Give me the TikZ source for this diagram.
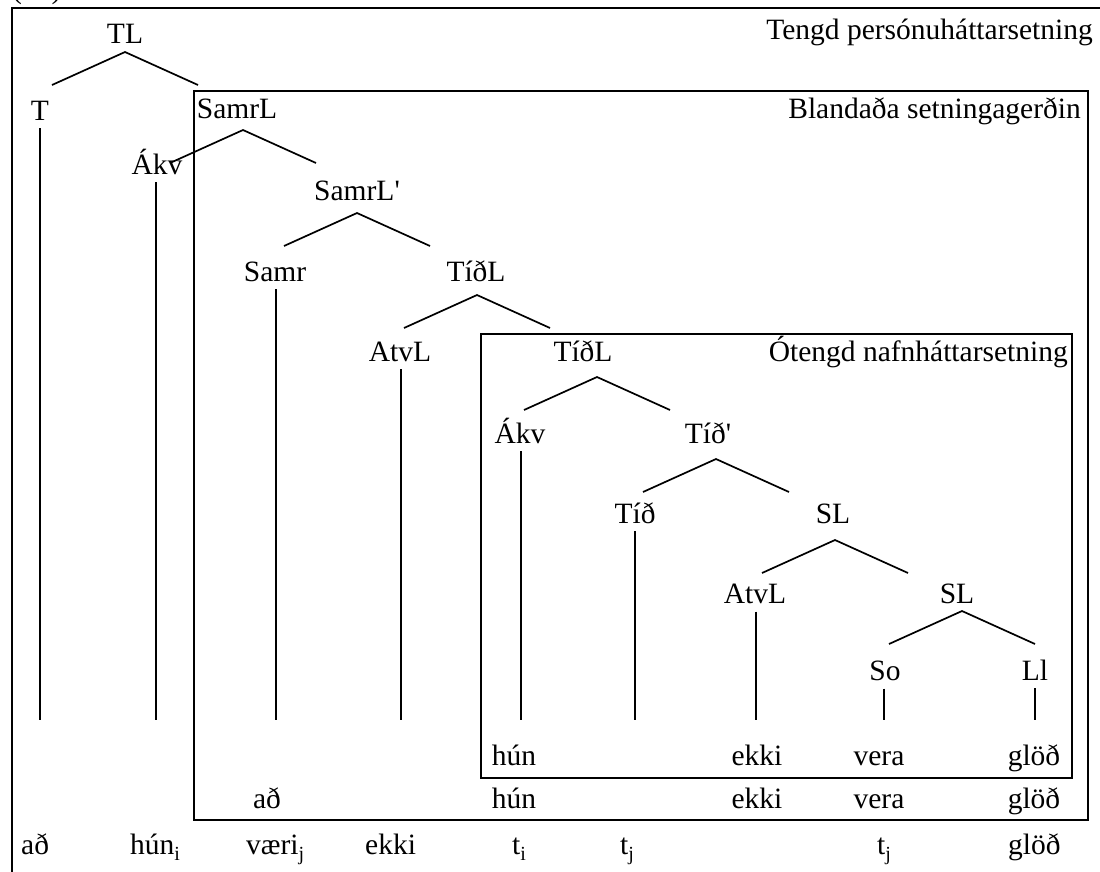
\documentclass[tikz,border=0pt]{standalone}
\usepackage{fontspec}
\setmainfont{Liberation Serif}
\usetikzlibrary{calc}
\tikzset{
  lbl/.style={inner sep=0pt, anchor=base, font=\fontsize{29.5}{35}\selectfont},
  lblw/.style={lbl, anchor=base west},
  lble/.style={lbl, anchor=base east},
  br/.style={line width=1.7pt},
  vl/.style={line width=1.4pt},
  frm/.style={line width=1.6pt},
}
\newcommand{\branch}[1]{\draw[br] ($(#1)+(-73,33)$) -- (#1) -- ($(#1)+(73,33)$);}
\newcommand{\sbs}[1]{\raisebox{-0.22em}{\fontsize{20}{20}\selectfont #1}}
\begin{document}
\begin{tikzpicture}[x=1pt,y=-1pt]
\useasboundingbox (0,0) rectangle (1100,871);
\begin{scope}
\clip (0,0) rectangle (1100,871);
% example number (cut off at the top)
\node[lblw] (exnum) at (12,-1.5) {(\hphantom{00})};
% frames
\draw[frm] (12,880) -- (12,8) -- (1110,8);
\draw[frm] (194,91) rectangle (1088,820);
\draw[frm] (481,334) rectangle (1072,778);
\end{scope}
% frame labels
\node[lble] (f1) at (1093,39) {Tengd persónuháttarsetning};
\node[lble] (f2) at (1081,118) {Blandaða setningagerðin};
\node[lble] (f3) at (1068,361) {Ótengd nafnháttarsetning};
% tree labels
\node[lbl] (TL) at (125,43) {TL};
\node[lbl] (T) at (40,120) {T};
\node[lbl] (SamrL) at (237,118) {SamrL};
\node[lbl] (Akv1) at (157,174) {Ákv};
\node[lbl] (SamrLp) at (357,200) {SamrL\textquotesingle};
\node[lbl] (Samr) at (275,281) {Samr};
\node[lbl] (TidL1) at (476,281) {TíðL};
\node[lbl] (AtvL1) at (400,361) {AtvL};
\node[lbl] (TidL2) at (583,361) {TíðL};
\node[lbl] (Akv2) at (520,443) {Ákv};
\node[lbl] (Tidp) at (708,443) {Tíð\textquotesingle};
\node[lbl] (Tid) at (635,523) {Tíð};
\node[lbl] (SL1) at (833,523) {SL};
\node[lbl] (AtvL2) at (755,603) {AtvL};
\node[lbl] (SL2) at (957,603) {SL};
\node[lbl] (So) at (885,680) {So};
\node[lbl] (Ll) at (1035,680) {Ll};
% branch apexes
\coordinate (TL-a) at (125,52);
\coordinate (SamrL-a) at (243,130);
\coordinate (SamrLp-a) at (357,213);
\coordinate (TidL1-a) at (477,295);
\coordinate (TidL2-a) at (597,377);
\coordinate (Tidp-a) at (716,459);
\coordinate (SL1-a) at (835,540);
\coordinate (SL2-a) at (962,611);
\branch{TL-a}
\branch{SamrL-a}
\branch{SamrLp-a}
\branch{TidL1-a}
\branch{TidL2-a}
\branch{Tidp-a}
\branch{SL1-a}
\branch{SL2-a}
% vertical lines
\foreach \n/\x in {T/40, Akv1/156, Samr/276, AtvL1/401, Akv2/521, Tid/635, AtvL2/756, So/884, Ll/1035}{
  \coordinate (\n-e) at (\x,720);
  \draw[vl] ([yshift=-8pt]\n.south -| \n-e) -- (\n-e);
}
% row 1 (inner clause)
\node[lbl] (r1a) at (514,765) {hún};
\node[lbl] (r1b) at (757,765) {ekki};
\node[lbl] (r1c) at (879,765) {vera};
\node[lbl] (r1d) at (1034,765) {glöð};
% row 2
\node[lbl] (r2a) at (267,808) {að};
\node[lbl] (r2b) at (514,808) {hún};
\node[lbl] (r2c) at (757,808) {ekki};
\node[lbl] (r2d) at (879,808) {vera};
\node[lbl] (r2e) at (1034,808) {glöð};
% row 3
\node[lblw] (r3a) at (21,854) {að};
\node[lblw] (r3b) at (130,854) {hún\sbs{i}};
\node[lblw] (r3c) at (246,854) {væri\sbs{j}};
\node[lblw] (r3d) at (365,854) {ekki};
\node[lblw] (r3e) at (512,854) {t\sbs{i}};
\node[lblw] (r3f) at (620,854) {t\sbs{j}};
\node[lblw] (r3g) at (877,854) {t\sbs{j}};
\node[lblw] (r3h) at (1008,854) {glöð};
\end{tikzpicture}
\end{document}
